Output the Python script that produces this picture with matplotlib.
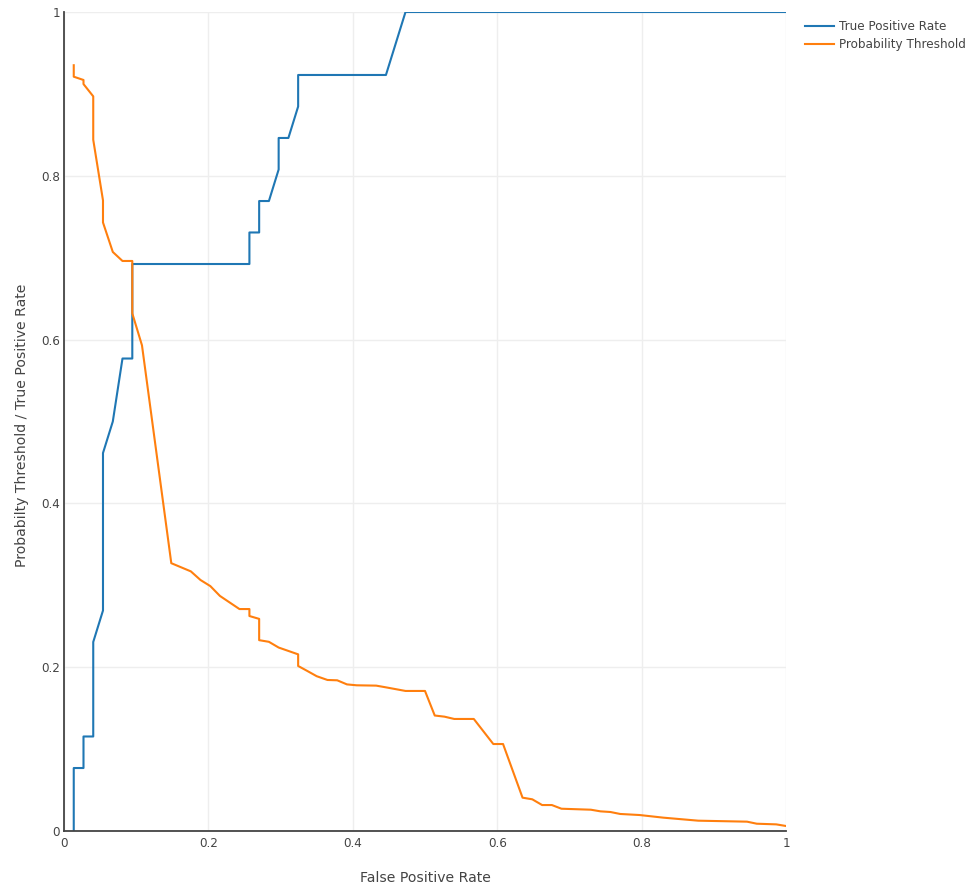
import matplotlib
matplotlib.use("Agg")
import matplotlib.pyplot as plt
from matplotlib.lines import Line2D

# ---- data ----
tpr_fpr = [0.0135, 0.0135, 0.027, 0.027, 0.0405, 0.0405, 0.054, 0.054, 0.0676, 0.081,
           0.0946, 0.0946, 0.2568, 0.2568, 0.2703, 0.2703, 0.2838, 0.2973, 0.2973,
           0.3108, 0.3243, 0.3243, 0.4459, 0.473, 1.0]
tpr_vals = [0.0, 0.0769, 0.0769, 0.1154, 0.1154, 0.2308, 0.2692, 0.4615, 0.5, 0.5769,
            0.5769, 0.6923, 0.6923, 0.7308, 0.7308, 0.7692, 0.7692, 0.8077, 0.8462,
            0.8462, 0.8846, 0.9231, 0.9231, 1.0, 1.0]

thr_fpr = [0.0135, 0.0135, 0.027, 0.027, 0.0405, 0.0405, 0.054, 0.054, 0.0676, 0.081,
           0.0946, 0.0946, 0.108, 0.1486, 0.1757, 0.189, 0.2027, 0.216, 0.243, 0.2568,
           0.2568, 0.2703, 0.2703, 0.2838, 0.2973, 0.3243, 0.3243, 0.3378, 0.350, 0.3649,
           0.3784, 0.3919, 0.4054, 0.4324, 0.4459, 0.473, 0.50, 0.5135, 0.527, 0.5405,
           0.5676, 0.5946, 0.6081, 0.6351, 0.6486, 0.6622, 0.6757, 0.689, 0.7297, 0.743,
           0.7568, 0.7703, 0.7973, 0.830, 0.8784, 0.946, 0.9595, 0.9865, 1.0]
thr_vals = [0.935, 0.921, 0.917, 0.912, 0.897, 0.844, 0.770, 0.743, 0.707, 0.696,
            0.696, 0.632, 0.593, 0.327, 0.317, 0.3065, 0.299, 0.287, 0.271, 0.271,
            0.2625, 0.259, 0.233, 0.231, 0.224, 0.2157, 0.2015, 0.195, 0.189, 0.1844,
            0.184, 0.179, 0.1779, 0.1775, 0.1754, 0.171, 0.171, 0.141, 0.1396, 0.1368,
            0.1368, 0.1062, 0.1062, 0.0407, 0.0387, 0.0317, 0.0317, 0.0272, 0.026, 0.024,
            0.0232, 0.0208, 0.0195, 0.0163, 0.0126, 0.0114, 0.0089, 0.0081, 0.0061]

tick_vals = [0, 0.2, 0.4, 0.6, 0.8, 1]
tick_labels = ["0", "0.2", "0.4", "0.6", "0.8", "1"]
series_names = ["True Positive Rate", "Probability Threshold"]
colors = ["#1f77b4", "#ff7f0e"]

plt.rcParams['font.family'] = ['DejaVu Sans']
txt = "#444444"
fs = 8.64
fs_title = 10.08

W, H = 979, 892
fig = plt.figure(figsize=(W / 100, H / 100), dpi=100)
ax = fig.add_axes([64 / W, (H - 831) / H, (786 - 64) / W, (831 - 12) / H])

ax.plot(tpr_fpr, tpr_vals, color=colors[0], lw=1.5, label=series_names[0], zorder=3)
ax.plot(thr_fpr, thr_vals, color=colors[1], lw=1.5, label=series_names[1], zorder=3)

ax.set_xlim(0, 1)
ax.set_ylim(0, 1)
ax.set_xticks(tick_vals)
ax.set_xticklabels(tick_labels)
ax.set_yticks(tick_vals)
ax.set_yticklabels(tick_labels)
ax.tick_params(axis="x", length=0, labelsize=fs, labelcolor=txt, pad=4.5)
ax.tick_params(axis="y", length=0, labelsize=fs, labelcolor=txt, pad=3)
ax.grid(True, color="#eeeeee", lw=1)
ax.set_axisbelow(True)
for s in ["top", "right"]:
    ax.spines[s].set_visible(False)
for s in ["left", "bottom"]:
    ax.spines[s].set_color(txt)
    ax.spines[s].set_linewidth(1.3)
    ax.spines[s].set_zorder(4)

ax.set_xlabel("False Positive Rate", fontsize=fs_title, color=txt)
ax.xaxis.set_label_coords(0.5, (831 - 878) / 819)
ax.xaxis.label.set_verticalalignment("center")
ax.set_ylabel("Probabilty Threshold / True Positive Rate", fontsize=fs_title, color=txt)
ax.yaxis.set_label_coords((22 - 64) / 722, (831 - 425) / 819)
ax.yaxis.label.set_verticalalignment("center")

handles = [Line2D([], [], color=c, lw=1.5) for c in colors]
fig.legend(handles, series_names, loc="upper left", bbox_to_anchor=(805 / W, 1 - 20 / H),
           frameon=False, fontsize=fs, labelcolor=txt, handlelength=2.4, handletextpad=0.45,
           labelspacing=0.45, borderaxespad=0, borderpad=0)

fig.savefig("out.png", dpi=100, facecolor="white")
